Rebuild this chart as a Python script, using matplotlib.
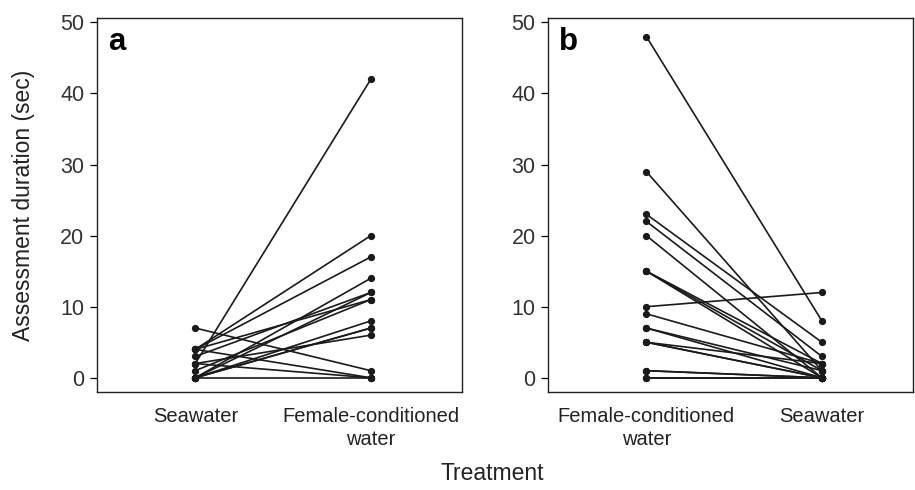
import matplotlib
matplotlib.use("Agg")
import matplotlib.pyplot as plt

plt.rcParams['font.family'] = ['Liberation Sans', 'DejaVu Sans']

# panel a: seawater first, then female-conditioned water
a_seawater = [2, 4, 4, 0, 3, 0, 4, 1, 0, 0, 0, 2, 7, 4, 2, 0]
a_female = [42, 20, 17, 14, 12, 12, 11, 11, 8, 7, 7, 6, 1, 0, 0, 0]
a_labels = ["Seawater", "Female-conditioned\nwater"]

# panel b: female-conditioned water first, then seawater
b_female = [48, 29, 23, 22, 20, 15, 15, 15, 10, 9, 7, 7, 5, 5, 5, 1, 1, 0, 0]
b_seawater = [8, 1, 5, 3, 0, 0, 2, 1, 12, 2, 0, 1, 0, 2, 0, 0, 0, 0, 0]
b_labels = ["Female-conditioned\nwater", "Seawater"]

yticks = [0, 10, 20, 30, 40, 50]

fig = plt.figure(figsize=(9.15, 4.9), dpi=100)
ax_a = fig.add_axes([0.106, 0.2, 0.399, 0.763])
ax_b = fig.add_axes([0.599, 0.2, 0.399, 0.763])

panels = [(ax_a, a_seawater, a_female, a_labels, "a"),
          (ax_b, b_female, b_seawater, b_labels, "b")]

for ax, first, second, labels, letter in panels:
    for y1, y2 in zip(first, second):
        ax.plot([1, 2], [y1, y2], color='#1a1a1a', lw=1.2,
                marker='o', markersize=4.2, solid_capstyle='round')
    ax.set_xlim(0.44, 2.52)
    ax.set_ylim(-2, 50.6)
    ax.set_yticks(yticks)
    ax.set_xticks([1, 2])
    ax.set_xticklabels(labels, fontsize=14.5, color='#222222',
                       linespacing=1.25)
    ax.tick_params(axis='x', length=0, pad=11)
    ax.tick_params(axis='y', length=5, width=0.9, labelsize=15.5,
                   labelcolor='#333333', pad=4)
    for s in ax.spines.values():
        s.set_linewidth(1.0)
        s.set_color('#222222')
    ax.text(0.03, 0.975, letter, transform=ax.transAxes, fontsize=22.5,
            fontweight='bold', va='top', ha='left')

ax_a.set_ylabel("Assessment duration (sec)", fontsize=16.5, color='#222222')
ax_a.yaxis.set_label_coords(-0.17, 0.5)
fig.text(0.538, 0.02, "Treatment", ha='center', va='baseline',
         fontsize=16.5, color='#222222')

fig.savefig("out.png", dpi=100)
